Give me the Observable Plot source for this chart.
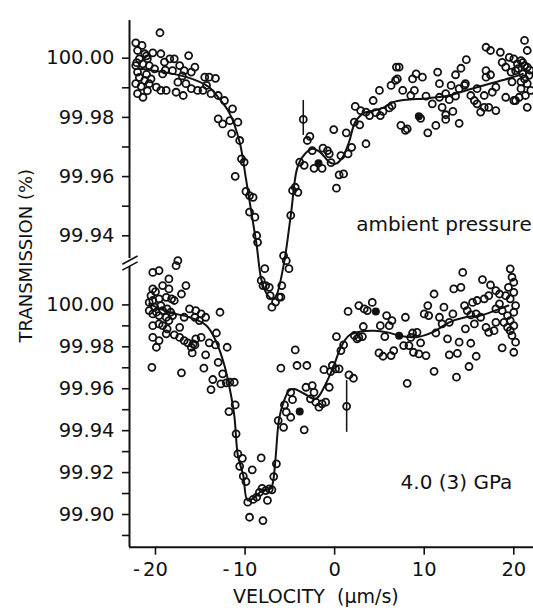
<!DOCTYPE html>
<html><head><meta charset="utf-8">
<script src="https://cdn.jsdelivr.net/npm/d3@7"></script>
<script src="https://cdn.jsdelivr.net/npm/@observablehq/plot@0.6"></script>
<style>
html,body{margin:0;padding:0;background:#fff;}
#chart{position:relative;width:533px;height:612px;overflow:hidden;background:#fff;}
#chart svg{position:absolute;left:0;top:0;}
</style></head><body><div id="chart"></div>
<script>
// ---------- data (velocity µm/s, transmission %) ----------
const xTicks = [-20, -10, 0, 10, 20];
const topTicks = [99.94, 99.95, 99.96, 99.97, 99.98, 99.99, 100.00];
const botTicks = [99.89, 99.90, 99.91, 99.92, 99.93, 99.94, 99.95, 99.96, 99.97, 99.98, 99.99, 100.00];
const topLabel = "ambient pressure";
const botLabel = "4.0 (3) GPa";
const xTitle = "VELOCITY  (\u00b5m/s)";
const yTitle = "TRANSMISSION (%)";

const topPoints = [
[-19.5,100.0086],[-22.2,100.0052],[-21.5,100.0043],[-22.0,100.0026],[-21.2,100.0015],[-20.3,100.0018],[-19.4,100.0015],[-16.3,100.0009],
[-18.4,99.9998],[-17.9,99.9998],[-21.8,99.9998],[-20.9,99.9998],[-19.0,99.9987],[-22.2,99.9975],[-21.4,99.9981],[-20.7,99.9975],
[-17.3,99.9975],[-15.6,99.9970],[-20.1,99.9964],[-18.1,99.9958],[-16.8,99.9958],[-16.0,99.9953],[-22.0,99.9953],[-19.2,99.9947],
[-14.5,99.9936],[-14.0,99.9936],[-13.3,99.9932],[-21.2,99.9925],[-22.2,99.9914],[-20.7,99.9914],[-17.5,99.9919],[-16.6,99.9914],
[-14.3,99.9908],[-19.9,99.9902],[-19.4,99.9891],[-18.8,99.9891],[-16.0,99.9897],[-15.3,99.9891],[-14.7,99.9891],[-17.7,99.9885],
[-16.9,99.9874],[-22.0,99.9880],[-21.4,99.9868],[-13.8,99.9880],[-13.0,99.9874],[-21.8,99.9935],[-21.0,99.9945],[-21.6,99.9905],
[-20.9,99.9890],[-22.1,99.9985],[-21.0,100.0008],[-20.5,99.9930],[-18.9,99.9960],[-17.0,99.9940],
[-12.3,99.9857],[-11.4,99.9829],[-13.0,99.9795],[-12.5,99.9778],[-11.7,99.9789],[-10.8,99.9784],[-11.5,99.9745],[-10.6,99.9722],
[-10.4,99.9660],[-10.1,99.9649],[-11.1,99.9601],[-9.9,99.9550],[-9.5,99.9536],[-9.1,99.9530],[-9.5,99.9480],[-8.9,99.9463],
[-8.7,99.9401],[-8.6,99.9378],[-8.2,99.9249],[-8.0,99.9232],[-7.8,99.9289],[-7.7,99.9232],[-7.3,99.9226],[-7.2,99.9198],
[-6.6,99.9176],[-6.2,99.9193],[-7.0,99.9159],[-6.0,99.9193],[-5.9,99.9232],[-5.7,99.9333],[-5.4,99.9316],[-5.1,99.9289],
[-4.9,99.9469],[-4.7,99.9553],[-4.4,99.9564],[-4.1,99.9547],[-3.9,99.9649],[-3.4,99.9638],
[-3.05,99.9722],[-2.76,99.9736],[-2.5,99.9688],[-2.3,99.9628],[-1.4,99.9628],[-1.3,99.9696],[-0.8,99.9688],[-0.6,99.9677],
[-0.4,99.9647],[-0.1,99.9759],[0.2,99.9561],[0.5,99.9606],[1.0,99.9609],[0.7,99.9671],[1.5,99.9677],[1.9,99.9699],[1.3,99.9748],
[2.2,99.9784],[2.8,99.9775],[2.3,99.9837],[2.9,99.9823],[3.5,99.9818],[3.9,99.9806],[4.3,99.9857],[3.5,99.9711],[4.6,99.9816],
[5.1,99.9806],[5.4,99.9820],[6.1,99.9832],[6.4,99.9840],[5.0,99.9891],[6.3,99.9908],[6.8,99.9925],[6.9,99.9970],
[7.2,99.9970],[7.0,99.9930],[7.6,99.9891],[8.5,99.9874],[8.9,99.9891],[8.7,99.9930],[9.1,99.9947],[9.8,99.9936],[7.4,99.9773],
[7.9,99.9756],[8.1,99.9761],[9.6,99.9797],[10.4,99.9748],[11.3,99.9773],[12.4,99.9793],[13.9,99.9780],[10.2,99.9872],
[10.9,99.9846],[11.7,99.9868],[12.4,99.9880],[12.8,99.9860],[13.5,99.9872],[13.9,99.9897],[14.5,99.9908],[14.6,99.9914],
[11.5,99.9953],[11.7,99.9914],[13.0,99.9908],[13.5,99.9944],[14.1,99.9966],[14.7,99.9995],[12.0,99.9834],[12.4,99.9809],
[13.2,99.9820],[15.2,99.9874],[15.6,99.9857],[15.9,99.9846],[16.3,99.9818],[16.7,99.9834],[17.2,99.9834],[18.0,99.9823],
[15.9,99.9897],[16.7,99.9874],[17.6,99.9885],[18.0,99.9902],[19.1,99.9868],[20.0,99.9857],[16.9,99.9958],[17.4,99.9944],
[16.9,99.9936],[16.9,100.0037],[17.4,100.0026],[18.5,100.0020],[18.7,99.9986],[19.1,99.9970],[19.5,100.0003],[20.0,99.9998],
[20.4,99.9981],[20.8,99.9992],[21.2,99.9975],[21.5,99.9970],[21.7,99.9942],[21.2,99.9930],[21.5,99.9914],[20.8,99.9897],
[21.3,99.9874],[20.6,99.9868],[20.2,99.9857],[21.5,99.9834],[21.9,99.9891],[21.0,99.9947],[20.2,99.9958],[19.7,99.9953],
[21.2,100.0060],[21.5,100.0026],[20.5,99.9965],[21.0,99.9985],[20.8,99.9920],[21.8,99.9960],[19.8,99.9920]
];
const topFilled = [[-1.8,99.9645],[9.4,99.9804]];
const topErr = [[-3.5,99.9793,99.9739,99.9857]]; // v, T, low, high
const topFit = [
[-22.0,99.9965],[-20.2,99.9958],[-16.5,99.9936],[-14.0,99.9902],[-13.0,99.9868],[-11.7,99.9812],[-10.6,99.9716],[-9.9,99.9593],
[-9.3,99.9480],[-8.7,99.9367],[-8.2,99.9255],[-7.6,99.9205],[-7.0,99.9187],[-6.6,99.9193],[-5.7,99.9300],[-4.9,99.9468],
[-4.2,99.9626],[-3.6,99.9666],[-2.5,99.9694],[-1.6,99.9682],[-0.6,99.9649],[0.1,99.9643],[0.9,99.9666],[1.6,99.9716],
[2.3,99.9784],[3.3,99.9815],[4.4,99.9823],[5.5,99.9834],[6.8,99.9854],[10.5,99.9865],[12.8,99.9874],[15.0,99.9894],
[17.2,99.9913],[19.5,99.9932],[21.0,99.9947]
];

const botPoints = [
[-17.5,100.0211],[-17.7,100.0187],[-20.3,100.0155],[-19.6,100.0164],[-18.5,100.0124],[-20.3,100.0076],[-20.0,100.0063],
[-19.2,100.0092],[-18.5,100.0076],[-16.6,100.0092],[-17.1,100.0052],[-20.5,100.0044],[-20.3,100.0021],[-19.6,100.0029],
[-18.8,100.0036],[-18.2,100.0029],[-17.9,100.0021],[-20.7,100.0012],[-20.1,99.9989],[-19.4,99.9997],[-19.2,99.9973],
[-18.7,99.9981],[-18.3,99.9965],[-20.7,99.9973],[-19.9,99.9965],[-20.3,99.9957],[-19.6,99.9949],[-18.8,99.9941],[-18.1,99.9949],
[-18.5,99.9925],[-20.3,99.9901],[-19.6,99.9909],[-19.2,99.9901],[-16.2,99.9981],[-15.5,99.9973],[-14.9,99.9957],[-14.4,99.9941],
[-15.6,99.9941],[-15.1,99.9925],[-16.8,99.9941],[-12.8,99.9965],[-17.3,99.9893],[-18.7,99.9886],[-18.8,99.9862],[-17.9,99.9857],
[-17.3,99.9845],[-16.8,99.9830],[-16.4,99.9819],[-15.8,99.9814],[-15.5,99.9838],[-14.9,99.9845],[-16.0,99.9798],[-15.6,99.9809],
[-20.3,99.9845],[-19.6,99.9830],[-19.9,99.9798],[-13.2,99.9866],[-14.0,99.9819],[-13.3,99.9809],[-12.0,99.9798],[-15.9,99.9771],
[-14.4,99.9762],[-13.0,99.9726],[-20.4,99.9702],[-17.1,99.9676],[-14.6,99.9698],[-12.5,99.9671],[-13.6,99.9644],[-13.8,99.9596],
[-12.7,99.9623],[-12.1,99.9628],[-11.7,99.9631],[-11.2,99.9631],[-11.1,99.9523],[-11.8,99.9491],[-11.0,99.9385],[-10.8,99.9289],
[-10.3,99.9268],[-10.6,99.9230],[-10.2,99.9183],[-9.9,99.9157],[-9.2,99.9213],[-8.2,99.9270],[-9.7,99.9059],[-9.1,99.9072],
[-8.7,99.9083],[-8.4,99.9106],[-9.5,99.8987],[-8.0,99.8971],[-8.1,99.9125],[-7.7,99.9114],[-7.3,99.9122],[-7.0,99.9118],
[-7.5,99.9067],[-6.8,99.9181],[-6.5,99.9242],[-6.3,99.9448],[-5.7,99.9416],[-5.6,99.9523],[-5.4,99.9488],[-4.9,99.9464],
[-4.9,99.9583],[-4.7,99.9548],[-3.4,99.9404],[-3.2,99.9607],[-2.5,99.9615],[-2.3,99.9583],[-2.7,99.9552],[-2.1,99.9536],
[-1.75,99.9512],[-1.4,99.9528],[-1.0,99.9536],[-0.6,99.9607],[-6.0,99.9698],[-4.4,99.9785],[-4.2,99.9711],[-3.1,99.9711],
[-1.2,99.9691],[-0.45,99.9682],[-0.26,99.9711],[0.1,99.9695],[0.5,99.9695],[0.7,99.9782],[1.0,99.9809],[0.2,99.9849],
[1.5,99.9969],[1.6,99.9666],[2.1,99.9650],[2.2,99.9854],[2.7,99.9845],[2.5,99.9838],[3.1,99.9849],[3.2,99.9897],[2.7,99.9997],
[3.3,99.9981],[3.65,99.9973],[4.2,100.0012],[5.1,99.9901],[5.8,99.9949],[6.1,99.9901],[6.4,99.9925],[5.6,99.9849],[4.95,99.9771],
[5.4,99.9755],[6.3,99.9758],[6.6,99.9782],[7.9,99.9941],[7.7,99.9806],[8.3,99.9806],[8.7,99.9866],[9.2,99.9869],[8.5,99.9845],
[8.8,99.9774],[9.4,99.9766],[10.2,99.9758],[9.6,99.9819],[11.1,99.9683],[8.1,99.9626],[13.6,99.9655],[15.0,99.9706],[12.8,99.9762],
[13.7,99.9769],[15.8,99.9755],[12.6,99.9838],[13.9,99.9822],[15.2,99.9817],[11.3,99.9866],[11.7,99.9941],[12.0,99.9909],
[12.8,99.9917],[13.2,99.9957],[12.2,99.9989],[10.5,99.9949],[10.0,99.9957],[10.4,99.9997],[11.1,100.0052],[13.3,100.0076],
[14.1,100.0084],[14.3,100.0155],[16.5,100.0121],[17.4,100.0095],[14.5,99.9997],[14.8,99.9973],[15.2,99.9952],[14.6,99.9886],
[15.6,99.9909],[15.4,100.0012],[15.9,100.0021],[16.7,100.0029],[17.2,100.0044],[18.0,100.0068],[18.4,100.0052],[15.8,99.9957],
[16.3,99.9941],[16.9,99.9893],[17.2,99.9869],[17.8,99.9877],[18.0,99.9917],[18.0,99.9981],[18.7,99.9973],[19.3,99.9949],
[19.6,99.9925],[20.0,99.9965],[19.6,100.0029],[19.1,100.0044],[19.4,100.0084],[20.0,100.0108],[19.8,100.0132],[19.6,100.0172],
[20.0,100.0060],[20.2,99.9997],[20.0,99.9901],[19.8,99.9854],[19.6,99.9877],[20.2,99.9822],[20.0,99.9774],[18.7,99.9795],
[19.3,99.9893],[18.9,99.9917],[18.4,100.0005]
];
const botFilled = [[-3.9,99.9491],[4.6,99.9968],[7.2,99.9853]];
const botErr = [[1.34,99.9516,99.9392,99.9639]];
const botFit = [
[-20.7,100.0005],[-18.5,99.9965],[-16.2,99.9941],[-14.3,99.9901],[-13.2,99.9822],[-12.3,99.9711],[-11.7,99.9599],[-11.2,99.9472],
[-10.8,99.9281],[-10.2,99.9186],[-9.7,99.9067],[-8.7,99.9091],[-8.1,99.9114],[-7.15,99.9123],[-6.9,99.9150],[-6.6,99.9266],
[-6.2,99.9456],[-5.7,99.9536],[-5.1,99.9591],[-4.5,99.9599],[-3.4,99.9576],[-2.1,99.9552],[-1.0,99.9623],[-0.08,99.9711],
[0.7,99.9798],[1.6,99.9854],[2.9,99.9873],[4.4,99.9877],[5.9,99.9869],[7.2,99.9854],[9.1,99.9846],[10.9,99.9869],
[12.8,99.9917],[14.6,99.9941],[16.5,99.9952],[18.4,99.9981],[19.4,99.9997]
];

// ---------- scales / layout ----------
const W = 533, H = 612;
const X_DOMAIN = [-22.9, 22.2];
const TOP_Y = [99.90, 100.0127];
const BOT_Y = [99.8844, 100.025];
const TOP_AXIS_END = 99.9323;   // axis break (top panel units)
const BOT_AXIS_START = 100.0183; // axis break (bottom panel units)
const FONT = '"DejaVu Sans", "Noto Sans", sans-serif';
const fmtY = d => (Math.round(d * 100) % 2 === 0 ? d.toFixed(2) : "");
const X = d => d[0], Y = d => d[1];
const dotOpts = {x: X, y: Y, r: 3.5, stroke: "#111", strokeWidth: 1.8, fill: "none"};

const bottomPlot = Plot.plot({
  width: W, height: H,
  marginLeft: 129, marginRight: 0, marginTop: 252, marginBottom: 65.3,
  style: {background: "white", fontFamily: FONT, fontSize: "19.5px", color: "#111", overflow: "visible"},
  x: {domain: X_DOMAIN},
  y: {domain: BOT_Y},
  marks: [
    Plot.axisY({ticks: botTicks, tickFormat: fmtY, tickSize: 7, tickPadding: 8, strokeWidth: 1.6, label: null}),
    Plot.axisX({ticks: xTicks, tickFormat: d => String(Math.abs(d)), tickSize: 8, tickPadding: 7, strokeWidth: 1.6, label: null}),
    Plot.text(xTicks.filter(d => d < 0), {x: d => d, y: BOT_Y[0], text: () => "-", dx: -19, dy: 15, lineAnchor: "top", fontSize: 19.5}),
    Plot.ruleY([BOT_Y[0]], {strokeWidth: 2}),
    Plot.ruleX([X_DOMAIN[0]], {y1: BOT_Y[0], y2: BOT_AXIS_START, strokeWidth: 2}),
    Plot.line(botFit, {x: X, y: Y, curve: "catmull-rom", strokeWidth: 2, stroke: "#111"}),
    Plot.ruleX(botErr, {x: X, y1: d => d[2], y2: d => d[3], strokeWidth: 1.5, stroke: "#111"}),
    Plot.dot(botPoints, dotOpts),
    Plot.dot(botErr, dotOpts),
    Plot.dot(botFilled, {x: X, y: Y, r: 4, fill: "#111"}),
    Plot.text([botLabel], {x: 13.6, y: 99.9154, text: d => d, fontSize: 20}),
    Plot.text([xTitle], {x: -2.1, y: BOT_Y[0], text: d => d, dy: 56, lineAnchor: "bottom", fontSize: 19, letterSpacing: "2.5px"}),
    Plot.text([yTitle], {x: X_DOMAIN[0], y: 100.0235, text: d => d, dx: -103, rotate: -90, fontSize: 18, letterSpacing: "1px"})
  ]
});

const topPlot = Plot.plot({
  width: W, height: H,
  marginLeft: 129, marginRight: 0, marginTop: 20.1, marginBottom: 258.3,
  style: {background: "transparent", fontFamily: FONT, fontSize: "19.5px", color: "#111", overflow: "visible"},
  x: {domain: X_DOMAIN, axis: null},
  y: {domain: TOP_Y},
  marks: [
    Plot.axisY({ticks: topTicks, tickFormat: fmtY, tickSize: 7, tickPadding: 8, strokeWidth: 1.6, label: null}),
    Plot.ruleX([X_DOMAIN[0]], {y1: TOP_AXIS_END, y2: TOP_Y[1], strokeWidth: 2}),
    // axis break marks "//"
    Plot.link([99.9318, 99.9298], {x1: X_DOMAIN[0] - 0.8, x2: X_DOMAIN[0] + 0.9, y1: d => d - 0.0014, y2: d => d + 0.0014, strokeWidth: 1.6, stroke: "#111"}),
    Plot.line(topFit, {x: X, y: Y, curve: "catmull-rom", strokeWidth: 2, stroke: "#111"}),
    Plot.ruleX(topErr, {x: X, y1: d => d[2], y2: d => d[3], strokeWidth: 1.5, stroke: "#111"}),
    Plot.dot(topPoints, dotOpts),
    Plot.dot(topErr, dotOpts),
    Plot.dot(topFilled, {x: X, y: Y, r: 4, fill: "#111"}),
    Plot.text([topLabel], {x: 12.2, y: 99.9438, text: d => d, fontSize: 20})
  ]
});

const el = document.getElementById("chart");
el.appendChild(bottomPlot);
el.appendChild(topPlot);
</script></body></html>
